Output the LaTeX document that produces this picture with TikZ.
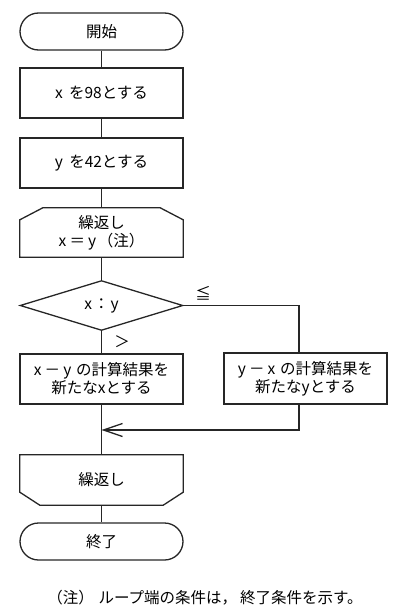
\documentclass[tikz,border=0pt]{standalone}
\usepackage{fontspec}
\setmainfont{Noto Sans CJK JP}
\usetikzlibrary{arrows.meta}
\begin{document}
\begin{tikzpicture}[x=1pt,y=-1pt,
  every node/.style={font=\fontsize{15.5}{18}\selectfont, inner sep=0pt},
  ln/.style={line width=1.3pt, draw=black!85},
  term/.style={ln, draw, rectangle, rounded corners=18.5pt, minimum width=163pt, minimum height=37pt},
  proc/.style={ln, draw, rectangle, minimum width=163pt, minimum height=50pt, align=center},
  ghost/.style={rectangle, minimum width=163pt, minimum height=50pt, align=center},
  lbl/.style={font=\fontsize{15.5}{18}\selectfont}
]
\useasboundingbox (0,0) rectangle (415,615);
\node[term] (start) at (101.5,31.5) {開始};
\node[proc] (b1) at (101.5,93) {x\hspace{0.4em}を98とする};
\node[proc] (b2) at (101.5,163) {y\hspace{0.4em}を42とする};
\node[ghost, minimum height=49pt] (l1) at (101.5,232.5) {繰返し\hspace{0.7em}\\x\hspace{0.2em}＝\hspace{0.2em}y\hspace{0.1em}（注）};
\draw[ln] ([xshift=23pt]l1.north west) -- ([xshift=-23pt]l1.north east) -- ([yshift=-12pt]l1.north east)
  -- (l1.south east) -- (l1.south west) -- ([yshift=-12pt]l1.north west) -- cycle;
\node[ghost, minimum width=162pt, minimum height=49pt] (d) at (101.5,305.5) {x\hspace{0.1em}：\hspace{0.1em}y};
\draw[ln] (d.west) -- (d.north) -- (d.east) -- (d.south) -- cycle;
\node[proc] (bl) at (101.5,379) {x\hspace{0.2em}－\hspace{0.2em}y\hspace{0.3em}の計算結果を\\新たなxとする};
\node[proc, minimum height=51pt] (br) at (305.5,378.5) {y\hspace{0.2em}－\hspace{0.2em}x\hspace{0.3em}の計算結果を\\新たなyとする};
\node[ghost, minimum height=50pt] (l2) at (101.5,480) {繰返し};
\draw[ln] (l2.north west) -- (l2.north east) -- ([yshift=13pt]l2.south east) -- ([xshift=-20pt]l2.south east)
  -- ([xshift=20pt]l2.south west) -- ([yshift=13pt]l2.south west) -- cycle;
\node[term] (end) at (101.5,541.5) {終了};
\coordinate (rt) at (299,305.5);
\coordinate (mg) at (101.5,430);
\draw[ln] (start.south) -- (b1.north);
\draw[ln] (b1.south) -- (b2.north);
\draw[ln] (b2.south) -- (l1.north);
\draw[ln] (l1.south) -- (d.north);
\draw[ln] (d.south) -- (bl.north);
\draw[ln] (d.east) -- (rt) -- (rt |- br.north);
\draw[ln, -{Straight Barb[length=19pt,width=13pt,line width=1.3pt]}] (rt |- br.south) |- (mg);
\draw[ln] (bl.south) -- (l2.north);
\draw[ln] (l2.south) -- (end.north);
\node[lbl] (le) at (203,293) {≦};
\node[lbl] (gt) at (122,342) {＞};
\node[lbl] (note) at (205,598) {（注）\hspace{0.3em}ループ端の条件は，\hspace{0.2em}終了条件を示す。};
\end{tikzpicture}
\end{document}
